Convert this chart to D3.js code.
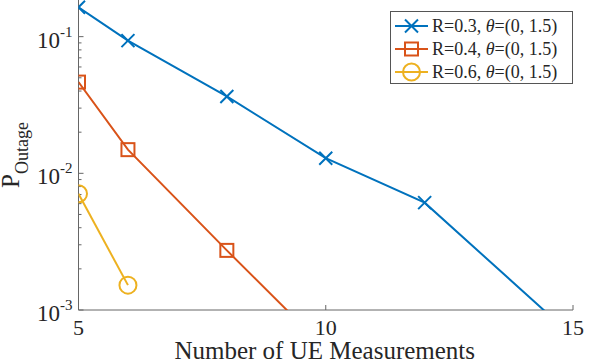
<!DOCTYPE html>
<html>
<head>
<script src="https://cdnjs.cloudflare.com/ajax/libs/d3/7.8.5/d3.min.js"></script>
<style>
  body { margin: 0; background: #fff; }
  text { font-family: "Liberation Serif", "Times New Roman", serif; fill: #262626; }
</style>
</head>
<body>
<div id="chart"></div>
<script>
// data
var xTicks = [5, 10, 15];
var yTicks = [1e-3, 1e-2, 1e-1];
var yExp = ["-3", "-2", "-1"];
var seriesNames = ["R=0.3, ", "R=0.4, ", "R=0.6, "];
var seriesColors = ["#0072BD", "#D95319", "#EDB120"];
var seriesMarkers = ["x", "square", "circle"];
var xR03 = [5, 6, 8, 10, 12, 15];
var yR03 = [0.164, 0.0935, 0.0365, 0.0129, 0.0061, 0.00064];
var xR04 = [5, 6, 8, 10];
var yR04 = [0.0465, 0.0149, 0.00273, 0.00052];
var xR06 = [5, 6];
var yR06 = [0.00708, 0.00152];

var W = 592, H = 364;
var padL = 78.5, padR = 573, padB = 310, padT = -4.5;

var svg = d3.select("#chart").append("svg")
  .attr("width", W).attr("height", H);

var x = d3.scaleLinear().domain([5, 15]).range([padL, padR]);
var y = d3.scaleLog().domain([1e-3, 0.2]).range([padB, padT]);

svg.append("clipPath").attr("id", "clip")
  .append("rect").attr("x", padL).attr("y", 0)
  .attr("width", padR - padL).attr("height", padB);

// y minor ticks
var minor = [];
[1e-3, 1e-2, 1e-1].forEach(function(d) {
  for (var k = 2; k <= 9; k++) if (d * k <= 0.2) minor.push(d * k);
});
svg.selectAll(".ymin").data(minor).enter().append("line")
  .attr("x1", padL).attr("x2", padL + 3)
  .attr("y1", function(d) { return y(d); }).attr("y2", function(d) { return y(d); })
  .attr("stroke", "#666").attr("stroke-width", 1);
svg.selectAll(".ymaj").data(yTicks).enter().append("line")
  .attr("x1", padL).attr("x2", padL + 5)
  .attr("y1", function(d) { return y(d); }).attr("y2", function(d) { return y(d); })
  .attr("stroke", "#666").attr("stroke-width", 1);
svg.selectAll(".xmaj").data(xTicks).enter().append("line")
  .attr("x1", function(d) { return x(d); }).attr("x2", function(d) { return x(d); })
  .attr("y1", padB).attr("y2", padB - 5)
  .attr("stroke", "#666").attr("stroke-width", 1);

// axis lines
svg.append("line").attr("x1", padL).attr("x2", padL).attr("y1", 0).attr("y2", padB)
  .attr("stroke", "#666").attr("stroke-width", 1);
svg.append("line").attr("x1", padL).attr("x2", padR).attr("y1", padB).attr("y2", padB)
  .attr("stroke", "#666").attr("stroke-width", 1);

// tick labels
svg.selectAll(".xl").data(xTicks).enter().append("text")
  .attr("x", function(d) { return x(d); }).attr("y", padB + 25)
  .attr("text-anchor", "middle").attr("font-size", 22)
  .text(function(d) { return d; });

yTicks.forEach(function(d, i) {
  var t = svg.append("text").attr("x", padL - 6).attr("y", y(d) + 11)
    .attr("text-anchor", "end").attr("font-size", 23);
  t.append("tspan").text("10");
  t.append("tspan").attr("dy", -11).attr("font-size", 15).text(yExp[i]);
});

// axis titles
svg.append("text").attr("x", (padL + padR) / 2 - 1).attr("y", 359)
  .attr("text-anchor", "middle").attr("font-size", 25)
  .text("Number of UE Measurements");

var yl = svg.append("text")
  .attr("transform", "translate(19," + 155 + ") rotate(-90)")
  .attr("text-anchor", "middle").attr("font-size", 25);
yl.append("tspan").text("P");
yl.append("tspan").attr("dy", 9).attr("font-size", 18).text("Outage");

// series
var series = [
  {xs: xR03, ys: yR03},
  {xs: xR04, ys: yR04},
  {xs: xR06, ys: yR06}
];

var line = d3.line()
  .x(function(d) { return x(d[0]); })
  .y(function(d) { return y(d[1]); });

function drawMarker(g, type, cx, cy, color) {
  if (type === "x") {
    g.append("path").attr("d", "M" + (cx - 6.5) + "," + (cy - 6.5) + "L" + (cx + 6.5) + "," + (cy + 6.5) +
      "M" + (cx - 6.5) + "," + (cy + 6.5) + "L" + (cx + 6.5) + "," + (cy - 6.5))
      .attr("stroke", color).attr("stroke-width", 2).attr("fill", "none");
  } else if (type === "square") {
    g.append("rect").attr("x", cx - 6.5).attr("y", cy - 6.5).attr("width", 13).attr("height", 13)
      .attr("stroke", color).attr("stroke-width", 2).attr("fill", "none");
  } else {
    g.append("circle").attr("cx", cx).attr("cy", cy).attr("r", 8.5)
      .attr("stroke", color).attr("stroke-width", 2).attr("fill", "none");
  }
}

var plot = svg.append("g").attr("clip-path", "url(#clip)");
series.forEach(function(s, i) {
  var pts = d3.zip(s.xs, s.ys);
  plot.append("path").datum(pts).attr("d", line)
    .attr("fill", "none").attr("stroke", seriesColors[i]).attr("stroke-width", 2);
  pts.forEach(function(p) {
    if (p[1] >= 1e-3) drawMarker(plot, seriesMarkers[i], x(p[0]), y(p[1]), seriesColors[i]);
  });
});

// legend
var lg = svg.append("g");
lg.append("rect").attr("x", 390.5).attr("y", 11.5).attr("width", 182).attr("height", 72)
  .attr("fill", "#fff").attr("stroke", "#555").attr("stroke-width", 1);
seriesNames.forEach(function(name, i) {
  var ly = 26 + i * 23;
  lg.append("line").attr("x1", 395).attr("x2", 428).attr("y1", ly).attr("y2", ly)
    .attr("stroke", seriesColors[i]).attr("stroke-width", 2);
  drawMarker(lg, seriesMarkers[i], 411.5, ly, seriesColors[i]);
  var t = lg.append("text").attr("x", 432).attr("y", ly + 6).attr("font-size", 18);
  t.append("tspan").text(name);
  t.append("tspan").attr("font-style", "italic").text("\u03b8");
  t.append("tspan").text("=(0, 1.5)");
});
</script>
</body>
</html>
